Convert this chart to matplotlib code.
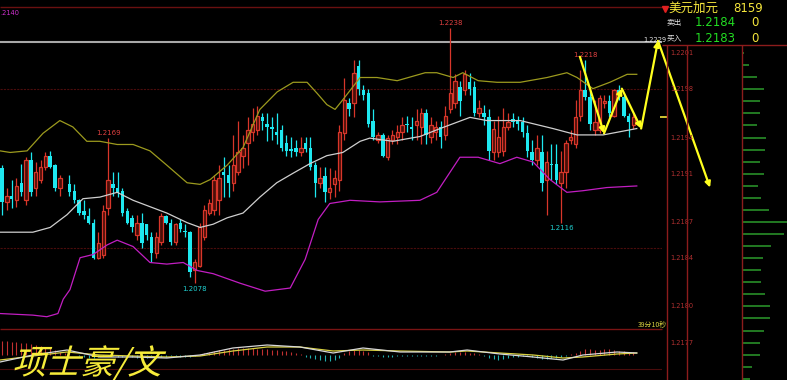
import numpy as np
import matplotlib
matplotlib.use("Agg")
import matplotlib.pyplot as plt
from matplotlib.textpath import TextPath
from matplotlib.patches import PathPatch
from matplotlib.font_manager import FontProperties
from matplotlib.transforms import Affine2D

# ---- candles (USD/CAD) ----
opens = [1.2150, 1.2129, 1.2133, 1.2130, 1.2141, 1.2130, 1.2155, 1.2138, 1.2143, 1.2151,
         1.2158, 1.2152, 1.2138, 1.2143, 1.2140, 1.2136, 1.2130, 1.2123, 1.2120, 1.2116,
         1.2094, 1.2096, 1.2125, 1.2140, 1.2138, 1.2136, 1.2123, 1.2119, 1.2108, 1.2116,
         1.2115, 1.2107, 1.2097, 1.2104, 1.2120, 1.2116, 1.2104, 1.2116, 1.2111, 1.2110,
         1.2086, 1.2089, 1.2107, 1.2122, 1.2124, 1.2130, 1.2148, 1.2146, 1.2141, 1.2148,
         1.2158, 1.2166, 1.2173, 1.2174, 1.2182, 1.2178, 1.2176, 1.2173, 1.2174, 1.2166,
         1.2162, 1.2163, 1.2160, 1.2166, 1.2163, 1.2152, 1.2141, 1.2145, 1.2135, 1.2140,
         1.2143, 1.2172, 1.2191, 1.2191, 1.2214, 1.2199, 1.2197, 1.2180, 1.2168, 1.2171,
         1.2157, 1.2168, 1.2170, 1.2173, 1.2178, 1.2176, 1.2177, 1.2176, 1.2185, 1.2170,
         1.2173, 1.2176, 1.2171, 1.2187, 1.2191, 1.2201, 1.2199, 1.2204, 1.2201, 1.2185,
         1.2185, 1.2182, 1.2160, 1.2160, 1.2161, 1.2176, 1.2181, 1.2180, 1.2179, 1.2172,
         1.2160, 1.2155, 1.2160, 1.2143, 1.2153, 1.2153, 1.2141, 1.2148, 1.2168, 1.2165,
         1.2183, 1.2199, 1.2195, 1.2174, 1.2174, 1.2191, 1.2192, 1.2183, 1.2199, 1.2195,
         1.2183, 1.2177]
closes = [1.2129, 1.2133, 1.2131, 1.2139, 1.2135, 1.2155, 1.2135, 1.2148, 1.2151, 1.2158,
          1.2151, 1.2138, 1.2144, 1.2143, 1.2135, 1.2130, 1.2122, 1.2121, 1.2116, 1.2094,
          1.2103, 1.2123, 1.2143, 1.2138, 1.2135, 1.2122, 1.2116, 1.2113, 1.2116, 1.2103,
          1.2108, 1.2097, 1.2107, 1.2120, 1.2116, 1.2104, 1.2115, 1.2112, 1.2110, 1.2085,
          1.2091, 1.2113, 1.2124, 1.2128, 1.2143, 1.2144, 1.2146, 1.2141, 1.2152, 1.2160,
          1.2163, 1.2174, 1.2178, 1.2183, 1.2180, 1.2176, 1.2175, 1.2171, 1.2163, 1.2161,
          1.2161, 1.2160, 1.2163, 1.2162, 1.2151, 1.2141, 1.2144, 1.2135, 1.2138, 1.2144,
          1.2173, 1.2193, 1.2187, 1.2210, 1.2200, 1.2196, 1.2178, 1.2170, 1.2171, 1.2158,
          1.2169, 1.2171, 1.2173, 1.2177, 1.2177, 1.2175, 1.2180, 1.2185, 1.2171, 1.2177,
          1.2176, 1.2170, 1.2183, 1.2197, 1.2205, 1.2192, 1.2209, 1.2200, 1.2185, 1.2188,
          1.2182, 1.2161, 1.2175, 1.2170, 1.2176, 1.2179, 1.2179, 1.2178, 1.2173, 1.2161,
          1.2155, 1.2163, 1.2141, 1.2154, 1.2152, 1.2143, 1.2148, 1.2166, 1.2170, 1.2182,
          1.2199, 1.2195, 1.2178, 1.2179, 1.2194, 1.2192, 1.2185, 1.2199, 1.2196, 1.2183,
          1.2179, 1.2182]
highs = [1.2152, 1.2138, 1.2143, 1.2144, 1.2153, 1.2157, 1.2160, 1.2154, 1.2155, 1.2160,
         1.2161, 1.2153, 1.2146, 1.2145, 1.2146, 1.2140, 1.2131, 1.2130, 1.2125, 1.2118,
         1.2110, 1.2127, 1.2169, 1.2148, 1.2148, 1.2138, 1.2125, 1.2121, 1.2121, 1.2122,
         1.2115, 1.2110, 1.2110, 1.2122, 1.2121, 1.2118, 1.2116, 1.2118, 1.2115, 1.2111,
         1.2093, 1.2116, 1.2127, 1.2131, 1.2146, 1.2152, 1.2157, 1.2152, 1.2171, 1.2180,
         1.2171, 1.2182, 1.2188, 1.2189, 1.2185, 1.2185, 1.2182, 1.2185, 1.2177, 1.2171,
         1.2170, 1.2168, 1.2170, 1.2170, 1.2170, 1.2154, 1.2151, 1.2151, 1.2150, 1.2149,
         1.2177, 1.2207, 1.2194, 1.2218, 1.2218, 1.2202, 1.2200, 1.2187, 1.2173, 1.2172,
         1.2171, 1.2174, 1.2177, 1.2182, 1.2183, 1.2182, 1.2187, 1.2188, 1.2187, 1.2182,
         1.2180, 1.2180, 1.2189, 1.2238, 1.2209, 1.2205, 1.2212, 1.2210, 1.2205, 1.2193,
         1.2190, 1.2187, 1.2180, 1.2183, 1.2188, 1.2185, 1.2185, 1.2183, 1.2182, 1.2177,
         1.2168, 1.2171, 1.2171, 1.2161, 1.2165, 1.2165, 1.2161, 1.2168, 1.2174, 1.2193,
         1.2212, 1.2218, 1.2199, 1.2193, 1.2196, 1.2196, 1.2196, 1.2200, 1.2202, 1.2196,
         1.2185, 1.2185]
lows = [1.2121, 1.2124, 1.2125, 1.2126, 1.2133, 1.2127, 1.2133, 1.2133, 1.2141, 1.2149,
        1.2150, 1.2136, 1.2133, 1.2138, 1.2133, 1.2128, 1.2121, 1.2118, 1.2115, 1.2093,
        1.2093, 1.2094, 1.2121, 1.2133, 1.2132, 1.2120, 1.2115, 1.2110, 1.2105, 1.2100,
        1.2105, 1.2091, 1.2094, 1.2102, 1.2115, 1.2102, 1.2102, 1.2110, 1.2107, 1.2082,
        1.2078, 1.2088, 1.2105, 1.2121, 1.2121, 1.2121, 1.2132, 1.2132, 1.2136, 1.2146,
        1.2150, 1.2152, 1.2167, 1.2171, 1.2174, 1.2167, 1.2168, 1.2165, 1.2161, 1.2158,
        1.2157, 1.2158, 1.2158, 1.2160, 1.2149, 1.2132, 1.2138, 1.2129, 1.2131, 1.2132,
        1.2136, 1.2168, 1.2183, 1.2182, 1.2196, 1.2193, 1.2176, 1.2168, 1.2166, 1.2157,
        1.2155, 1.2165, 1.2165, 1.2168, 1.2173, 1.2168, 1.2168, 1.2165, 1.2165, 1.2166,
        1.2168, 1.2163, 1.2168, 1.2185, 1.2188, 1.2183, 1.2196, 1.2196, 1.2183, 1.2182,
        1.2177, 1.2155, 1.2155, 1.2157, 1.2158, 1.2174, 1.2176, 1.2174, 1.2170, 1.2157,
        1.2152, 1.2152, 1.2136, 1.2121, 1.2143, 1.2140, 1.2116, 1.2138, 1.2165, 1.2163,
        1.2180, 1.2193, 1.2174, 1.2171, 1.2172, 1.2188, 1.2182, 1.2182, 1.2193, 1.2182,
        1.2170, 1.2175]

# Bollinger bands sampled along the chart (candle index, price)
upper_idx = [-0.4, 1.7, 5.2, 8.5, 12.0, 14.7, 17.6, 20.3, 23.9, 27.2, 30.7, 34.2, 38.4, 41.1,
             43.2, 46.7, 50.0, 53.5, 57.1, 60.4, 63.3, 65.4, 67.4, 69.1, 70.7, 74.3, 77.8,
             82.0, 87.8, 90.2, 93.6, 95.6, 98.8, 102.7, 107.5, 113.1, 117.2, 119.3, 122.6,
             126.1, 129.7, 131.7]
upper_val = [1.2161, 1.2160, 1.2161, 1.2172, 1.2180, 1.2176, 1.2167, 1.2167, 1.2165, 1.2165,
             1.2161, 1.2152, 1.2141, 1.2140, 1.2143, 1.2152, 1.2163, 1.2187, 1.2198, 1.2204,
             1.2204, 1.2197, 1.2190, 1.2187, 1.2193, 1.2207, 1.2207, 1.2205, 1.2210, 1.2210,
             1.2207, 1.2210, 1.2205, 1.2204, 1.2204, 1.2207, 1.2210, 1.2207, 1.2200, 1.2204,
             1.2209, 1.2209]
mid_idx = [-0.4, 6.4, 10.0, 13.5, 16.8, 20.3, 23.9, 27.2, 30.7, 34.2, 38.4, 41.1, 43.8,
           46.7, 50.0, 53.5, 57.0, 60.4, 63.9, 67.4, 70.7, 74.3, 76.3, 81.1, 86.7, 90.9,
           97.1, 100.6, 107.5, 114.3, 119.3, 124.7, 131.7]
mid_val = [1.2110, 1.2110, 1.2113, 1.2121, 1.2131, 1.2132, 1.2135, 1.2130, 1.2126, 1.2122,
           1.2116, 1.2113, 1.2115, 1.2119, 1.2122, 1.2132, 1.2141, 1.2147, 1.2153, 1.2158,
           1.2160, 1.2167, 1.2169, 1.2167, 1.2170, 1.2175, 1.2182, 1.2180, 1.2180, 1.2175,
           1.2171, 1.2171, 1.2175]
lower_idx = [-0.4, 6.4, 9.3, 11.6, 12.7, 14.1, 16.2, 18.9, 21.8, 23.9, 27.2, 30.7, 34.2,
             37.6, 40.5, 43.8, 49.4, 54.6, 59.8, 62.9, 65.6, 68.0, 72.2, 78.4, 86.7, 90.2,
             95.0, 98.8, 103.3, 106.8, 110.2, 113.7, 117.2, 120.5, 125.5, 131.7]
lower_val = [1.2059, 1.2058, 1.2057, 1.2059, 1.2068, 1.2074, 1.2094, 1.2096, 1.2102, 1.2105,
             1.2101, 1.2091, 1.2090, 1.2091, 1.2086, 1.2084, 1.2078, 1.2073, 1.2075, 1.2093,
             1.2118, 1.2128, 1.2130, 1.2129, 1.2130, 1.2135, 1.2157, 1.2157, 1.2153, 1.2157,
             1.2154, 1.2143, 1.2135, 1.2136, 1.2138, 1.2139]

# marked extremes
high_marks = [22, 93, 121]
low_marks = [40, 116]
level_line = 1.2229
grid_levels = [1.2200, 1.2100]

# analyst's yellow zig-zag forecast (candle index, price)
arrow_idx = [119.9, 124.9, 128.6, 132.6, 136.1, 146.9]
arrow_val = [1.2220, 1.2172, 1.2200, 1.2175, 1.2230, 1.2138]

# MACD sub panel
macd_hist = [14, 14, 13, 13, 12, 12, 11, 10, 9, 8, 7, 5, 3,
             2, 1, 0, -1, -2, -3, -3, -2, -1, -1, -1, -2, -2, -2,
             -2, -3, -3, -3, -2, -2, -2, -2, -1, -1, -2, -2, -2, -1,
             1, 2, 3, 4, 5, 5, 6, 6, 7, 7, 7, 7, 6, 6, 6, 5, 5, 4, 4, 3, 2, 1,
             -2, -3, -4, -5, -6, -6, -5, -3,
             2, 4, 5, 5, 4, 3,
             -1, -1, -2, -2, -2, -1, -1, -1, -1, -1, -1, -1, -1, -1, 0, 1,
             2, 3, 3, 3, 2, 2, 1,
             -1, -3, -4, -5, -4, -3, -2, -2, -1, -1,
             -2, -3, -4, -4, -3, -3, -2, -1, 1, 2,
             4, 6, 6, 5, 5, 6, 6, 5, 4, 4, 3, 3]
macd_idx = [-0.4, 6.4, 13.5, 20.3, 27.2, 34.2, 41.1, 47.9, 55.0, 61.8, 68.7, 74.9, 82.6,
            92.9, 96.5, 103.3, 110.2, 116.4, 120.5, 127.6, 131.7]
dif = [-7, 0, 5, -2, -2, -3, 0, 7, 10, 8, 2, 7, 3, 3, 5, 1, -2, -5, 0, 3, 2]
dea = [-5, -1, 3, 0, -1, -2, -1, 4, 8, 8, 4, 5, 4, 3, 4, 2, 0, -3, -2, 1, 2]

# right side quote box and depth ladder
symbol, code = "美元加元", "8159"
quote_names = ["卖出", "买入"]
quote_prices = ["1.2184", "1.2183"]
quote_qty = ["0", "0"]
ladder_ticks = [1.2201, 1.2198, 1.2194, 1.2191, 1.2187, 1.2184, 1.2180, 1.2177]
depth_prices = [1.2201 - 0.0001 * k for k in range(28)]
depth_size = [2, 7, 15, 22, 18, 18, 15, 24, 23, 18, 22, 16, 19, 27, 45, 42, 29, 21, 19, 19,
              23, 28, 28, 22, 18, 18, 10, 8]

W, H = 787, 380
RED, RED_FILL = "#d8362a", "#4a0e08"
CYAN = "#1ee8f0"
YELLOW = "#f5e63c"
FRAME = "#8c1c1c"


def box(x0, y0, x1, y1):
    return [x0 / W, 1 - y1 / H, (x1 - x0) / W, (y1 - y0) / H]


fig = plt.figure(figsize=(W / 100, H / 100), dpi=100, facecolor="black")

# ---- main price panel ----
ax = fig.add_axes(box(0, 0, 662, 329))
ax.set_facecolor("none")
ax.set_xlim(-0.415, 136.93)
ax.set_ylim(1.20493, 1.22556)
ax.axis("off")

o, c, h, l = map(np.array, (opens, closes, highs, lows))
x = np.arange(len(o))
up, dn = c > o, c < o
ax.vlines(x[up], l[up], h[up], color=RED, lw=0.9, zorder=2)
ax.bar(x[up], c[up] - o[up], bottom=o[up], width=0.7, facecolor=RED_FILL,
       edgecolor=RED, lw=0.9, zorder=3)
ax.vlines(x[dn], l[dn], h[dn], color=CYAN, lw=0.9, zorder=2)
ax.bar(x[dn], c[dn] - o[dn], bottom=o[dn], width=0.72, color=CYAN, lw=0, zorder=3)

ax.plot(upper_idx, upper_val, color="#9c9a1e", lw=0.9, zorder=4)
ax.plot(mid_idx, mid_val, color="#cfcfcf", lw=0.9, zorder=4)
ax.plot(lower_idx, lower_val, color="#c21ec2", lw=0.9, zorder=4)

for lv in grid_levels:
    ax.axhline(lv, color="#4a0c0c", lw=0.8, ls=(0, (2, 1)), zorder=1)
ax.axhline(level_line, color="#a8a8a8", lw=1.5, zorder=1)

for i in high_marks:
    ax.annotate(f"{highs[i]:.4f}", (i, highs[i]), xytext=(0, 1.5), textcoords="offset points",
                ha="center", va="bottom", fontsize=5, color="#e04040", zorder=6)
for i in low_marks:
    ax.annotate(f"{lows[i]:.4f}", (i, lows[i]), xytext=(0, -2), textcoords="offset points",
                ha="center", va="top", fontsize=5, color="#20d0d0", zorder=6)

# current price tick on the right edge
ax.hlines(closes[-1], 136.5, 138.0, color=YELLOW, lw=1.2, clip_on=False)

for k in range(len(arrow_idx) - 1):
    ax.annotate("", xy=(arrow_idx[k + 1], arrow_val[k + 1]), xytext=(arrow_idx[k], arrow_val[k]),
                arrowprops=dict(arrowstyle="-|>", color="#ffff1e", lw=1.6, mutation_scale=8,
                                shrinkA=0, shrinkB=0),
                annotation_clip=False, zorder=8)

# ---- MACD panel ----
ax2 = fig.add_axes(box(0, 329, 662, 380))
ax2.set_facecolor("none")
ax2.set_xlim(-0.415, 136.93)
ax2.set_ylim(-25, 26)
ax2.axis("off")
hist = np.array(macd_hist)
xh = np.arange(len(hist))
ax2.vlines(xh[hist > 0], 0, hist[hist > 0], color="#c03030", lw=0.8)
ax2.vlines(xh[hist < 0], hist[hist < 0], 0, color="#20b0b0", lw=0.8)
ax2.plot(macd_idx, dea, color="#d8d040", lw=0.9)
ax2.plot(macd_idx, dif, color="#d8d8d8", lw=0.9)
ax2.axhline(-14, color="#4a0c0c", lw=0.8)

# ---- depth ladder on the right ----
ax3 = fig.add_axes(box(662, 0, 787, 380))
ax3.set_facecolor("none")
ax3.set_xlim(-80, 45)
ax3.set_ylim(1.21739, 1.22054)
ax3.axis("off")
ax3.hlines(depth_prices, 0, depth_size, color="#2c9a2c", lw=1.1)
for t in ladder_ticks:
    ax3.text(-72, t, f"{t:.4f}", fontsize=4.8, color="#b03030", va="center", ha="left")

# ---- frame, header and texts in pixel space ----
ov = fig.add_axes([0, 0, 1, 1])
ov.set_facecolor("none")
ov.set_xlim(0, W)
ov.set_ylim(H, 0)
ov.axis("off")
ov.hlines(7, 0, 664, color="#6a1010", lw=1.0)
ov.hlines(329, 0, 662, color="#7a1414", lw=1.0)
ov.hlines(45, 662, W, color=FRAME, lw=1.0)
ov.vlines([667, 687, 742], 45, H, color=FRAME, lw=1.0)
ov.plot([665], [9], marker="v", color="#e02020", ms=4)

cjk = "Noto Sans CJK SC"
ov.text(668, 8, symbol, color=YELLOW, fontsize=9, family=cjk, va="center", ha="left")
ov.text(733, 8, code, color=YELLOW, fontsize=8.5, va="center", ha="left")
for row, (nm, pr, q) in enumerate(zip(quote_names, quote_prices, quote_qty)):
    yy = 23 + 15 * row
    ov.text(667, yy, nm, color="#e0e0e0", fontsize=5.5, family=cjk, va="center", ha="left")
    ov.text(695, yy, pr, color="#22dd22", fontsize=8.5, va="center", ha="left")
    ov.text(751, yy, q, color=YELLOW, fontsize=8.5, va="center", ha="left")
ov.text(666, 40, f"{level_line:.4f}", color="#e8e8e8", fontsize=4.8, va="center", ha="right")
ov.text(0, 13, ".2140", color="#d030d0", fontsize=4.8, va="center", ha="left")
ov.text(667, 325, "39分10秒", color="#d8d040", fontsize=5, family=cjk, va="center", ha="right")

# watermark, slanted like a brush signature
wm = TextPath((0, 0), "项士豪/文", size=34, prop=FontProperties(family=cjk, weight="medium"))
trans = Affine2D().skew_deg(16, 0).translate(12, 6).scale(1 / W, 1 / H) + fig.transFigure
fig.add_artist(PathPatch(wm, transform=trans, facecolor="#f6ec3a", edgecolor="none", zorder=10))

fig.savefig("out.png", dpi=100, facecolor="black")
